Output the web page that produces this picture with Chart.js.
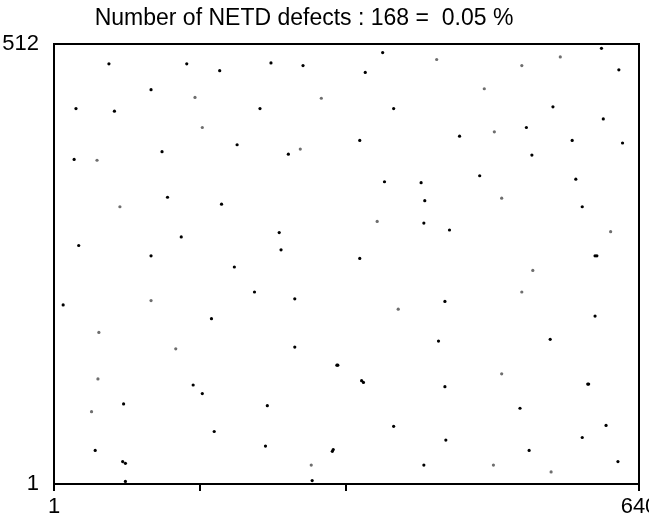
<!DOCTYPE html>
<html>
<head>
<meta charset="utf-8">
<script src="https://cdn.jsdelivr.net/npm/chart.js@4.4.1/dist/chart.umd.min.js"></script>
<style>
  html, body { margin: 0; padding: 0; background: #fff; }
  #wrap { width: 649px; height: 515px; }
</style>
</head>
<body>
<div id="wrap"><canvas id="defects" width="649" height="515"></canvas></div>
<script>
// detector frame: columns 1..640, rows 1..512
const colRange = [1, 640];
const rowRange = [1, 512];
const colTicks = [1, 160, 320, 640];
const colTickLabels = ['1', '', '', '640'];
const rowTicks = [1, 512];

const titleText = 'Number of NETD defects : 168 =  0.05 %';

// defect pixels (dark ones)
const darkCols = [
    61, 146, 182, 107, 25, 67, 201, 23, 119, 125, 184, 140, 28, 107,
    360, 238, 273, 341, 226, 372, 335, 257, 362, 402, 406, 405, 247, 249, 335,
    599, 618, 546, 601, 444, 517, 567, 622, 523, 466, 571, 578, 433, 592, 594,
    198, 11, 173, 153, 163, 77, 176, 46, 76, 79, 79,
    220, 264, 428, 421, 264, 310, 311, 337, 339, 428, 234, 372, 232, 305, 306, 405, 283, 429,
    592, 543, 584, 585, 510, 604, 578, 520, 617
];
const darkRows = [
    489, 489, 481, 459, 437, 434, 395, 378, 387, 334, 326, 288, 278, 266,
    502, 490, 487, 479, 437, 437, 400, 384, 352, 351, 330, 304, 293, 273, 263,
    507, 482, 439, 425, 405, 415, 400, 397, 383, 359, 355, 323, 296, 266, 266,
    253, 209, 193, 116, 106, 94, 62, 40, 27, 25, 4,
    224, 216, 213, 167, 160, 139, 139, 121, 119, 114, 92, 68, 45, 39, 41, 23, 5, 52,
    196, 169, 117, 117, 89, 69, 55, 40, 27
];

// weaker defects, printed grey
const faintCols = [
    155, 163, 48, 73, 419, 293, 270, 354, 554, 512, 471, 482, 490,
    609, 50, 134, 107, 49, 42, 377, 282, 524, 512, 481, 544, 490
];
const faintRows = [
    450, 415, 377, 323, 494, 449, 390, 306, 497, 487, 460, 410, 333,
    294, 177, 158, 214, 123, 85, 204, 23, 249, 224, 23, 15, 129
];

const toPoints = (cols, rows) => cols.map((c, i) => ({ x: c, y: rows[i] }));

const FONT = '"Liberation Sans", Arial, sans-serif';

// box round the plot + the heading
const framePlugin = {
    id: 'frame',
    afterDraw(chart) {
        const { ctx, chartArea: a } = chart;
        ctx.save();
        ctx.strokeStyle = '#000';
        ctx.lineWidth = 2;
        ctx.strokeRect(a.left, a.top, a.right - a.left, a.bottom - a.top);
        ctx.fillStyle = '#000';
        ctx.font = '23px ' + FONT;
        ctx.textAlign = 'center';
        ctx.textBaseline = 'alphabetic';
        ctx.fillText(titleText, 304, 25);
        ctx.restore();
    },
};

new Chart(document.getElementById('defects'), {
    type: 'scatter',
    data: {
        datasets: [
            {
                label: 'defects',
                data: toPoints(darkCols, darkRows),
                backgroundColor: '#000',
                pointRadius: 1.6,
                borderWidth: 0,
            },
            {
                label: 'weak defects',
                data: toPoints(faintCols, faintRows),
                backgroundColor: '#6e6e6e',
                pointRadius: 1.6,
                borderWidth: 0,
            },
        ],
    },
    options: {
        responsive: false,
        animation: false,
        layout: { padding: { top: 44, right: 10, left: 0, bottom: 0 } },
        plugins: {
            legend: { display: false },
            title: { display: false },
            tooltip: { enabled: false },
        },
        scales: {
            x: {
                type: 'linear',
                min: colRange[0],
                max: colRange[1],
                afterBuildTicks: (s) => { s.ticks = colTicks.map((v) => ({ value: v })); },
                afterFit: (s) => { s.height = 31; s.paddingLeft = 0; s.paddingRight = 0; },
                grid: { drawOnChartArea: false, drawTicks: true, tickLength: 7, color: '#000', lineWidth: 2 },
                border: { display: false },
                ticks: {
                    padding: 3,
                    color: '#000',
                    font: { family: FONT, size: 22 },
                    maxRotation: 0,
                    autoSkip: false,
                    callback: (v, i) => colTickLabels[i],
                },
            },
            y: {
                type: 'linear',
                min: rowRange[0],
                max: rowRange[1],
                afterBuildTicks: (s) => { s.ticks = rowTicks.map((v) => ({ value: v })); },
                afterFit: (s) => { s.width = 54; },
                grid: { display: false },
                border: { display: false },
                ticks: {
                    padding: 7,
                    color: '#000',
                    font: { family: FONT, size: 22 },
                    autoSkip: false,
                },
            },
        },
    },
    plugins: [framePlugin],
});
</script>
</body>
</html>
